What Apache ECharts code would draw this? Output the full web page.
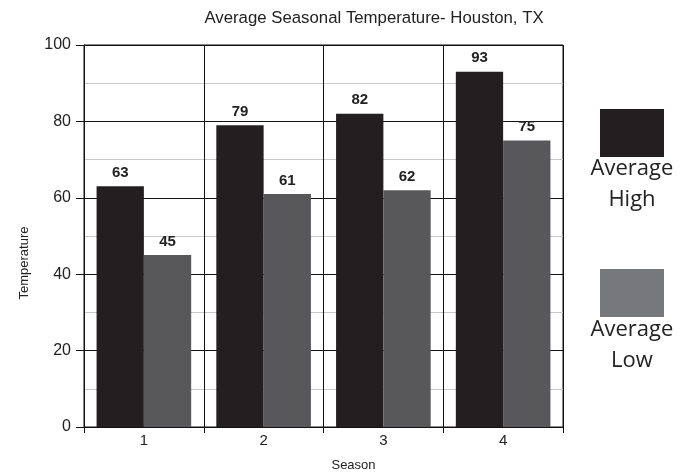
<!DOCTYPE html>
<html><head><meta charset="utf-8">
<script src="https://cdn.jsdelivr.net/npm/echarts@6/dist/echarts.min.js"></script>
<style>html,body{margin:0;padding:0;background:#fff;}#c{width:690px;height:473px;}</style>
</head><body><div id="c"></div>
<script>
const categories = ['1', '2', '3', '4'];
const avgHigh = [63, 79, 82, 93];
const avgLow = [45, 61, 62, 75];
const seriesNames = ['Average High', 'Average Low'];
const chart = echarts.init(document.getElementById('c'));
const FF = 'Liberation Sans, Arial';
const labelStyle = {show: true, position: 'top', distance: 6, color: '#222', fontWeight: 'bold', fontSize: 15, fontFamily: FF};
chart.setOption({
  animation: false,
  title: {text: 'Average Seasonal Temperature- Houston, TX', left: 369, textAlign: 'center', top: 5,
    textStyle: {fontSize: 16.8, fontWeight: 'normal', color: '#222', fontFamily: FF}},
  grid: {left: 84, right: 127, top: 45, bottom: 46, show: true, borderColor: '#111', borderWidth: 1,
    containLabel: false, outerBoundsMode: 'none'},
  xAxis: {type: 'category', data: categories, name: 'Season', nameLocation: 'middle', nameGap: 32,
    nameTextStyle: {fontSize: 13, color: '#222', fontFamily: FF, padding: [0, 0, 0, 60]},
    axisLine: {lineStyle: {color: '#111'}}, axisTick: {show: true, length: 6, lineStyle: {color: '#111'}},
    axisLabel: {fontSize: 15, color: '#222', margin: 6, fontFamily: FF},
    splitLine: {show: true, lineStyle: {color: '#111', width: 1}}},
  yAxis: {type: 'value', min: 0, max: 100, interval: 20, name: 'Temperature', nameLocation: 'middle', nameGap: 53,
    nameTextStyle: {fontSize: 13, color: '#222', fontFamily: FF, padding: [0, 54, 0, 0]},
    axisLine: {show: true, lineStyle: {color: '#111'}}, axisTick: {show: true, length: 8, lineStyle: {color: '#111'}},
    axisLabel: {fontSize: 16, color: '#222', margin: 13, fontFamily: FF},
    splitLine: {show: true, lineStyle: {color: '#111', width: 1}},
    minorTick: {show: false, splitNumber: 2},
    minorSplitLine: {show: true, lineStyle: {color: '#c8c8c8', width: 1}}},
  series: [
    {name: seriesNames[0], type: 'bar', data: avgHigh, barGap: '0%', barCategoryGap: '21%',
      itemStyle: {color: '#231f20'}, label: labelStyle},
    {name: seriesNames[1], type: 'bar', data: avgLow, barGap: '0%', barCategoryGap: '21%',
      itemStyle: {color: '#58585a'}, label: labelStyle}
  ],
  graphic: [
    {type: 'rect', left: 600, top: 109, shape: {width: 64, height: 48}, style: {fill: '#231f20'}},
    {type: 'text', style: {text: 'Average\nHigh', x: 632, y: 153, textAlign: 'center', fontSize: 22, lineHeight: 31, fill: '#222', fontFamily: 'Open Sans'}},
    {type: 'rect', left: 600, top: 269, shape: {width: 64, height: 48}, style: {fill: '#77787b'}},
    {type: 'text', style: {text: 'Average\nLow', x: 632, y: 314, textAlign: 'center', fontSize: 22, lineHeight: 31, fill: '#222', fontFamily: 'Open Sans'}}
  ]
});
</script></body></html>
